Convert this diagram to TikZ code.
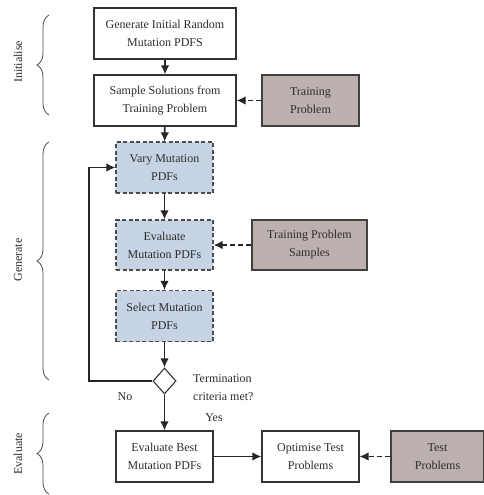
\documentclass[tikz,border=0pt]{standalone}
\usepackage{fontspec}
\setmainfont{Liberation Serif}
\usetikzlibrary{arrows.meta,shapes.geometric,decorations.pathreplacing}
\definecolor{bluefill}{RGB}{198,211,228}
\definecolor{grayfill}{RGB}{188,177,174}
\definecolor{txt}{RGB}{45,45,45}
\begin{document}
\begin{tikzpicture}[x=1pt,y=1pt,
  every node/.style={font=\fontsize{12}{18}\selectfont, text=txt, align=center, inner sep=0pt},
  wbox/.style={draw=black!80, line width=1.1pt, fill=white, minimum width=142pt, minimum height=51pt},
  bbox/.style={draw=black!70, dash pattern=on 4pt off 2.5pt, line width=1.1pt, fill=bluefill, minimum width=97pt, minimum height=51pt},
  gbox/.style={draw=black!75, line width=1.1pt, fill=grayfill, minimum height=51pt},
  obox/.style={draw=black!80, line width=1.1pt, fill=white, minimum width=97pt, minimum height=51pt},
  arr/.style={line width=1.6pt, black!85, -{Latex[length=9pt,width=8.5pt]}},
  darr/.style={arr, dash pattern=on 5pt off 3pt},
  br/.style={decorate, decoration={brace, amplitude=12pt}, line width=0.8pt, black!70},
  side/.style={rotate=90, font=\fontsize{12}{14}\selectfont}]
\useasboundingbox (0,0) rectangle (483,-495);
\fill[white] (0,0) rectangle (483,-495);

\node[wbox] (gen) at (165,-33.5) {Generate Initial Random\\Mutation PDFS};
\node[wbox] (samp) at (165,-100.5) {Sample Solutions from\\Training Problem};
\node[gbox, minimum width=97pt] (tp) at (310.5,-100.5) {Training\\Problem};

\node[bbox] (vary) at (164.5,-167.5) {Vary Mutation\\PDFs};
\node[bbox, minimum height=50pt] (eval) at (164.5,-245) {Evaluate\\Mutation PDFs};
\node[gbox, minimum width=115pt, minimum height=50pt] (tps) at (309.5,-245) {Training Problem\\Samples};
\node[bbox] (sel) at (164.5,-316) {Select Mutation\\PDFs};

\node[diamond, draw=black!80, line width=1.1pt, fill=white, minimum width=23pt, minimum height=26pt, aspect=0.9] (dec) at (164.5,-381) {};
\node[anchor=north west, align=left] (term) at (193,-374) {Termination\\criteria met?};
\node (no) at (125,-397) {No};
\node (yes) at (214,-418) {Yes};

\node[obox] (best) at (164.5,-456.5) {Evaluate Best\\Mutation PDFs};
\node[obox] (opt) at (310.5,-456.5) {Optimise Test\\Problems};
\node[gbox, minimum width=93pt] (test) at (437.5,-456.5) {Test\\Problems};

\draw[arr] (gen) -- (samp);
\draw[arr] (samp) -- (vary);
\draw[darr] (tp) -- (samp);
\draw[arr] (vary) -- (eval);
\draw[darr] (tps) -- (eval);
\draw[arr] (eval) -- (sel);
\draw[arr] (sel) -- (dec);
\draw[arr] (dec) -- (best);
\coordinate (loop) at (89,-381);
\draw[arr] (dec.west) -- (loop) |- (vary.west);
\draw[arr] (best) -- (opt);
\draw[darr] (test) -- (opt);

\draw[br] (49,-115) -- (49,-15);
\draw[br] (49,-380) -- (49,-142);
\draw[br] (49,-494) -- (49,-413);
\node[side] (li) at (18,-62) {Initialise};
\node[side] (lg) at (18,-260) {Generate};
\node[side] (le) at (18,-454) {Evaluate};
\end{tikzpicture}
\end{document}
